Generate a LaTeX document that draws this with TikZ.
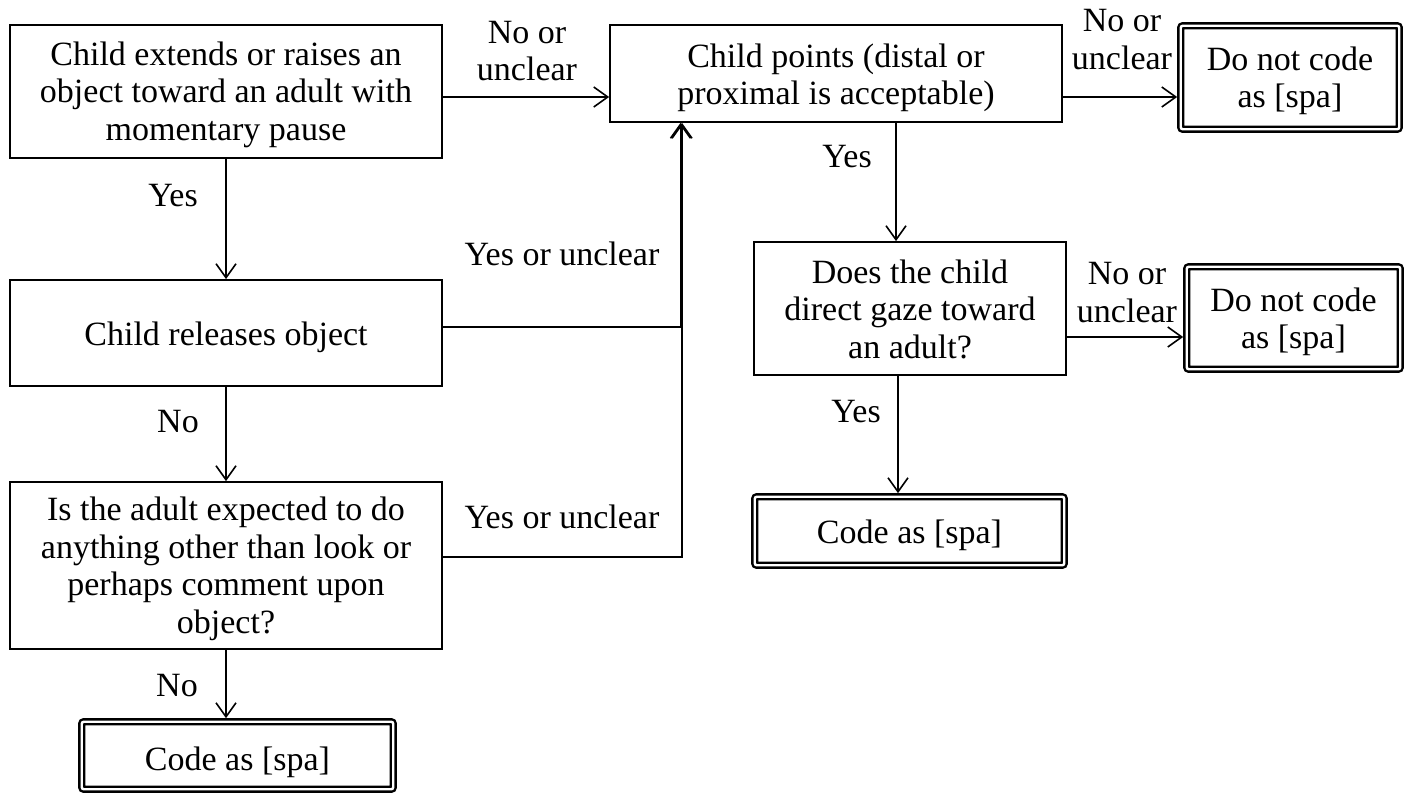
\documentclass[tikz,border=0pt]{standalone}
\usepackage{fontspec}
\setmainfont{Liberation Serif}
\usetikzlibrary{arrows.meta}
\begin{document}
\begin{tikzpicture}[x=1pt,y=-1pt,
  txt/.style={font=\fontsize{34}{37.5}\selectfont, align=center, inner sep=0pt},
  box/.style={draw, line width=1.8pt, inner sep=0pt},
  dbox/.style={draw, line width=2.4pt, double, double distance=2.4pt, rounded corners=2pt, inner sep=0pt, outer sep=3.6pt},
  lab/.style={txt},
  arr/.style={line width=1.6pt, -{Straight Barb[length=14pt,width=20pt,line width=1.6pt]}}]
\useasboundingbox (0,0) rectangle (1413,795);
% boxes
\node[box, minimum width=432pt, minimum height=133pt] (A) at (226,91.5) {};
\node[box, minimum width=452pt, minimum height=97pt] (B) at (836,73.5) {};
\node[dbox, minimum width=218.5pt, minimum height=103.5pt] (C) at (1290,77.5) {};
\node[box, minimum width=432pt, minimum height=106pt] (D) at (226,333) {};
\node[box, minimum width=432pt, minimum height=167pt] (E) at (226,565.5) {};
\node[dbox, minimum width=311.5pt, minimum height=67.5pt] (F) at (237.5,755.5) {};
\node[box, minimum width=312pt, minimum height=133pt] (G) at (910,308.5) {};
\node[dbox, minimum width=213.5pt, minimum height=102.5pt] (H) at (1293.5,318) {};
\node[dbox, minimum width=309.5pt, minimum height=68.5pt] (I) at (909.5,531) {};
% box texts
\node[txt] (At) at (226,94.5) {Child extends or raises an\\object toward an adult with\\momentary pause};
\node[txt] (Bt) at (836,78) {Child points (distal or\\proximal is acceptable)};
\node[txt] (Ct) at (1290,81) {Do not code\\as [spa]};
\node[txt] (Dt) at (226,337) {Child releases object};
\node[txt] (Et) at (226,569) {Is the adult expected to do\\anything other than look or\\perhaps comment upon\\object?};
\node[txt] (Ft) at (237.5,762) {Code as [spa]};
\node[txt] (Gt) at (910,309) {Does the child\\direct gaze toward\\an adult?};
\node[txt] (Ht) at (1293.5,322) {Do not code\\as [spa]};
\node[txt] (It) at (909.5,535) {Code as [spa]};
% helper coordinates
\coordinate (y1) at (0,97);
\coordinate (y2) at (0,337);
\coordinate (y3) at (0,327);
\coordinate (y4) at (0,557);
\coordinate (x1) at (896,0);
\coordinate (x2) at (898,0);
\coordinate (j1) at (680.5,0);
\coordinate (j2) at (682,0);
% connectors
\draw[arr] (A.east |- y1) -- (B.west |- y1);
\draw[arr] (B.east |- y1) -- (C.west |- y1);
\draw[arr] (B.south -| x1) -- (G.north -| x1);
\draw[arr] (G.east |- y2) -- (H.west |- y2);
\draw[arr] (G.south -| x2) -- (I.north -| x2);
\draw[arr] (A.south) -- (D.north);
\draw[arr] (D.south) -- (E.north);
\draw[arr] (E.south) -- (E.south |- F.north);
\draw[arr] (D.east |- y3) -- (j1 |- y3) -- (B.south -| j1);
\draw[arr] (E.east |- y4) -- (j2 |- y4) -- (B.south -| j2);
% labels
\node[lab] (l1) at (527,51) {No or\\unclear};
\node[lab] (l2) at (1122,39.5) {No or\\unclear};
\node[lab] (l3) at (847,157) {Yes};
\node[lab] (l4) at (173,196) {Yes};
\node[lab] (l5) at (562,253.5) {Yes or unclear};
\node[lab] (l6) at (178,421.5) {No};
\node[lab] (l7) at (562,516.5) {Yes or unclear};
\node[lab] (l8) at (177,686) {No};
\node[lab] (l9) at (1127,292.5) {No or\\unclear};
\node[lab] (l10) at (856,412) {Yes};
\end{tikzpicture}
\end{document}
